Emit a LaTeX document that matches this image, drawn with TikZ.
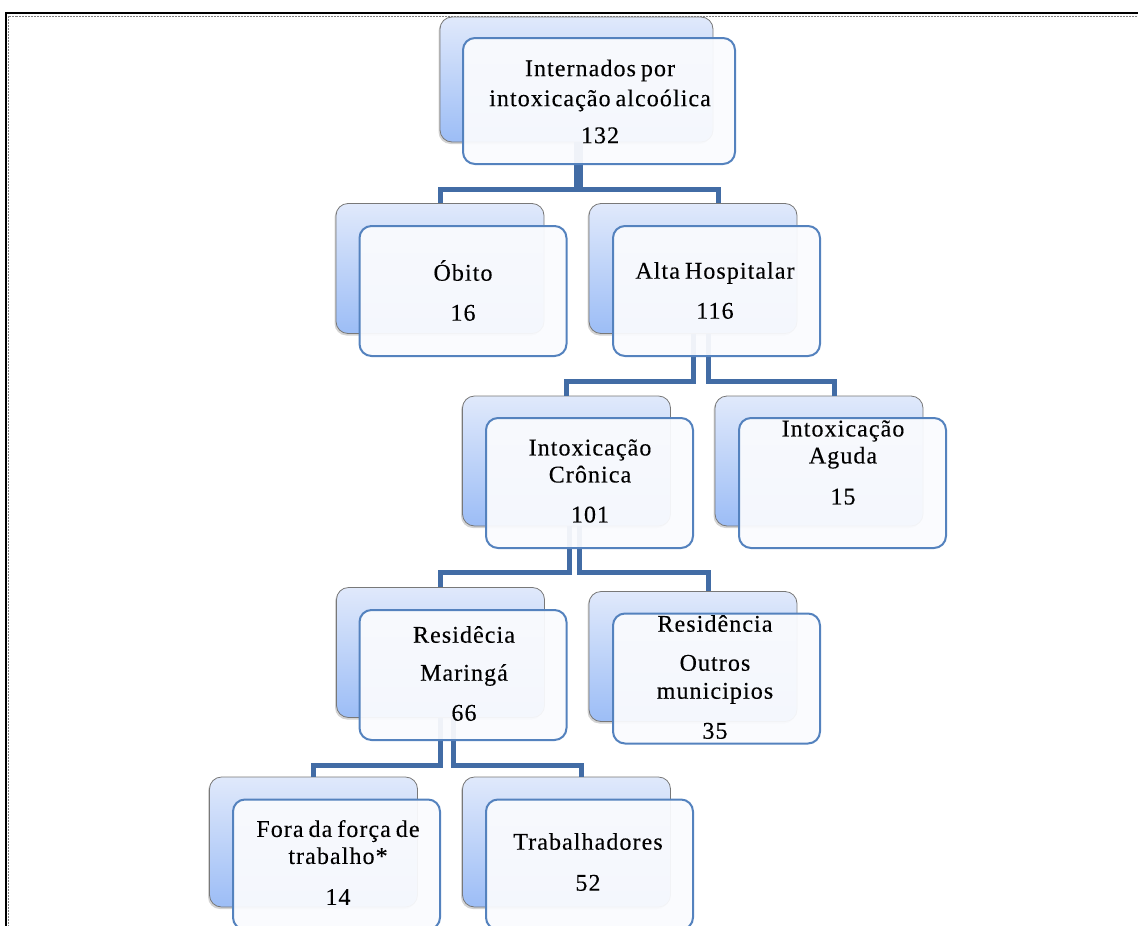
\documentclass[tikz,border=0pt]{standalone}
\usepackage{fontspec}
\setmainfont[LetterSpace=4.5,WordSpace=0.7,FakeBold=0.25]{Liberation Serif}
\usetikzlibrary{shadows}

\definecolor{connblue}{RGB}{66,108,165}
\definecolor{frontedge}{RGB}{84,130,190}
\definecolor{frontfill}{RGB}{250,251,254}
\definecolor{backtop}{RGB}{224,233,251}
\definecolor{backbot}{RGB}{156,189,246}
\definecolor{backedge}{RGB}{120,120,120}

\begin{document}
\begin{tikzpicture}[x=1pt,y=-1pt,
  backbox/.style={rounded corners=12pt, draw=backedge, line width=0.8pt,
    top color=backtop, bottom color=backbot,
    minimum width=208pt, minimum height=130pt, inner sep=0pt,
    drop shadow={shadow xshift=-1.5pt, shadow yshift=-2pt, opacity=0.35}},
  frontbox/.style={rounded corners=12pt, draw=frontedge, line width=2pt,
    fill=frontfill, fill opacity=0.94,
    minimum width=207pt, minimum height=130pt, inner sep=0pt},
  boxtext/.style={align=center, font=\fontsize{24}{28}\selectfont,
    inner sep=0pt, text=black},
  conn/.style={draw=connblue, line width=5pt}
]
\useasboundingbox (0,0) rectangle (1138,926);

% page frame
\draw[black, line width=1.5pt] (6,930) -- (6,13) -- (1140,13);
\draw[gray, line width=1pt, dash pattern=on 2pt off 1pt] (8.5,930) -- (8.5,16) -- (1140,16);

% shaded back cards
\node[backbox, minimum width=273pt, minimum height=125pt] (topb) at (576.5,79.5) {};
\node[backbox] (obitob)  at (440,268.5) {};
\node[backbox] (altab)   at (693,268.5) {};
\node[backbox] (cronb)   at (566.5,461) {};
\node[backbox] (agudab)  at (819,461) {};
\node[backbox] (marb)    at (440.5,652.5) {};
\node[backbox] (outrosb) at (693,656.5) {};
\node[backbox] (forab)   at (313.5,842) {};
\node[backbox] (trabb)   at (566.5,842) {};

% bar heights of the elbow connectors
\coordinate (bar1) at (0,189);
\coordinate (bar2) at (0,381);
\coordinate (bar3) at (0,572.5);
\coordinate (bar4) at (0,765);

% connectors
\draw[conn] (topb.south) -- (topb.south |- bar1) -| (obitob.north);
\draw[conn] ([xshift=4pt]topb.south) -- ([xshift=4pt]topb.south |- bar1) -| ([xshift=25pt]altab.north);

\draw[conn] (altab.south) -- (altab.south |- bar2) -| (cronb.north);
\draw[conn] ([xshift=15pt]altab.south) -- ([xshift=15pt]altab.south |- bar2) -| ([xshift=15pt]agudab.north);

\draw[conn] ([xshift=3pt]cronb.south) -- ([xshift=3pt]cronb.south |- bar3) -| (marb.north);
\draw[conn] ([xshift=13pt]cronb.south) -- ([xshift=13pt]cronb.south |- bar3) -| ([xshift=15pt]outrosb.north);

\draw[conn] (marb.south) -- (marb.south |- bar4) -| (forab.north);
\draw[conn] ([xshift=13pt]marb.south) -- ([xshift=13pt]marb.south |- bar4) -| ([xshift=14.5pt]trabb.north);

% white front cards
\node[frontbox, minimum width=272pt, minimum height=126pt] (topf) at (599,101) {};
\node[frontbox] (obitof)  at (463,291) {};
\node[frontbox] (altaf)   at (716.5,291) {};
\node[frontbox] (cronf)   at (589.5,483) {};
\node[frontbox] (agudaf)  at (842.5,483) {};
\node[frontbox] (marf)    at (463,675) {};
\node[frontbox] (outrosf) at (716.5,678.5) {};
\node[frontbox] (foraf)   at (336.5,864.5) {};
\node[frontbox] (trabf)   at (589.5,864.5) {};

% card texts
\node[boxtext] (topt)    at (600,101.5) {Internados por\\[2pt]intoxicação alcoólica\\[9pt]132};
\node[boxtext] (obitot)  at (463,290.5) {Óbito\\[12pt]16};
\node[boxtext] (altat)   at (715,290.5) {Alta Hospitalar\\[12pt]116};
\node[boxtext] (cront)   at (590,481) {Intoxicação\\[-1pt]Crônica\\[12pt]101};
\node[boxtext] (agudat)  at (843,462.5) {Intoxicação\\[-1pt]Aguda\\[13pt]15};
\node[boxtext] (mart)    at (464,673.5) {Residêcia\\[10pt]Maringá\\[12pt]66};
\node[boxtext] (outrost) at (715,677) {Residência\\[11pt]Outros\\[0pt]municipios\\[12pt]35};
\node[boxtext] (forat)   at (338,862.5) {Fora da força de\\[-1pt]trabalho*\\[13pt]14};
\node[boxtext] (trabt)   at (588,862) {Trabalhadores\\[13pt]52};
\end{tikzpicture}
\end{document}
